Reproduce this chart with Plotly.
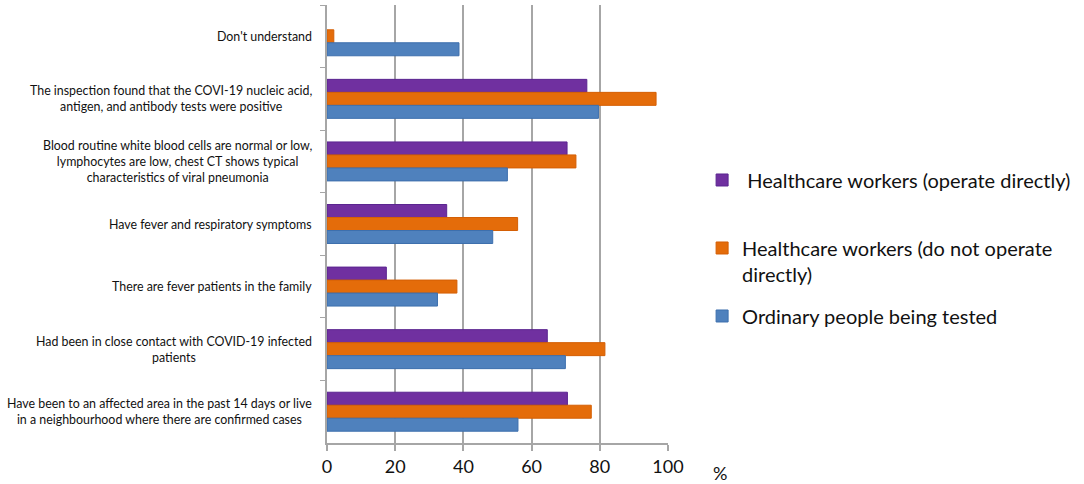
import plotly.graph_objects as go

# categories, top to bottom
categories = [
    "Don't understand",
    "The inspection found that the COVI-19 nucleic acid,<br>antigen, and antibody tests were positive",
    "Blood routine white blood cells are normal or low,<br>lymphocytes are low, chest CT shows typical<br>characteristics of viral pneumonia",
    "Have fever and respiratory symptoms",
    "There are fever patients in the family",
    "Had been in close contact with COVID-19 infected<br>patients",
    "Have been to an affected area in the past 14 days or live<br>in a neighbourhood where there are confirmed cases",
]

# percentages
operate_directly = [None, 76.2, 70.4, 35.1, 17.4, 64.6, 70.5]
not_operate_directly = [2.0, 96.5, 73.0, 55.9, 38.1, 81.5, 77.5]
ordinary_people = [38.7, 79.6, 52.9, 48.6, 32.4, 69.9, 56.0]

series_names = [
    " Healthcare workers (operate directly)<br> ",
    "Healthcare workers (do not operate<br>directly)",
    "Ordinary people being tested",
]
colors = ["#7030A0", "#E46C0A", "#4F81BD"]
edges = ["#5B2590", "#D45F05", "#3D6FAD"]

x_ticks = [0, 20, 40, 60, 80, 100]

fig = go.Figure()
for name, vals, c, e in zip(series_names,
                            [operate_directly, not_operate_directly, ordinary_people],
                            colors, edges):
    fig.add_trace(go.Bar(
        y=categories, x=vals, name=name, orientation="h",
        marker=dict(color=c, line=dict(color=e, width=1)),
        legendgroup=name,
    ))

# left labels, centred text block anchored right of the axis
for cat in categories:
    fig.add_annotation(
        x=0, xref="paper", y=cat, yref="y", text=cat,
        xanchor="right", xshift=-13, align="center", showarrow=False,
        font=dict(family="Lato", size=12.4, color="#111111"),
    )

fig.add_annotation(
    x=1.178, xref="paper", y=-0.068, yref="paper", text="%",
    showarrow=False, yanchor="middle",
    font=dict(family="Lato", size=18, color="#111111"),
)

fig.update_layout(
    width=1084, height=484,
    margin=dict(l=327, r=416, t=5, b=41),
    paper_bgcolor="white", plot_bgcolor="white",
    barmode="group", bargap=0.377, bargroupgap=0,
    font=dict(family="Lato", color="#111111"),
    legend=dict(
        x=1.10, xanchor="left", y=0.645, yanchor="top",
        font=dict(family="Lato", size=20, color="#111111"),
        valign="top", tracegroupgap=13, traceorder="grouped",
        itemwidth=30,
    ),
    xaxis=dict(
        range=[0, 100], tickvals=x_ticks, showgrid=True,
        gridcolor="#A6A6A6", gridwidth=2,
        showline=True, linecolor="#A6A6A6", linewidth=2,
        ticks="outside", ticklen=6, tickcolor="#A6A6A6", tickwidth=2,
        tickfont=dict(family="Lato", size=18, color="#111111"),
        zeroline=False,
    ),
    yaxis=dict(
        autorange="reversed", showticklabels=False,
        showline=True, linecolor="#A6A6A6", linewidth=2,
        ticks="outside", ticklen=5, tickcolor="#A6A6A6", tickwidth=1,
        tickson="boundaries", showgrid=False,
    ),
)

fig.write_html("out.html", config={"displayModeBar": False},
               post_script="document.body.style.margin='0';")
